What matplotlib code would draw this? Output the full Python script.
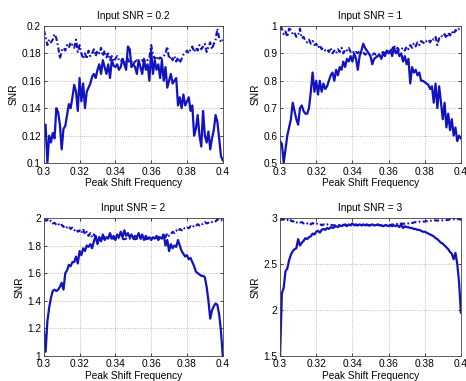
import numpy as np
import matplotlib
matplotlib.use('Agg')
import matplotlib.pyplot as plt
from matplotlib.ticker import FormatStrFormatter

plt.rcParams['font.family'] = ['Liberation Sans', 'DejaVu Sans']
plt.rcParams['font.size'] = 7.3

freq = np.linspace(0.3, 0.4, 101)

# Input SNR = 0.2
snr02_out = [0.128, 0.128, 0.100, 0.120, 0.115, 0.122, 0.118, 0.140, 0.137, 0.128,
             0.110, 0.125, 0.127, 0.135, 0.143, 0.140, 0.148, 0.157, 0.152, 0.138,
             0.162, 0.145, 0.158, 0.140, 0.152, 0.155, 0.158, 0.163, 0.165, 0.162,
             0.168, 0.172, 0.165, 0.175, 0.170, 0.165, 0.172, 0.162, 0.175, 0.171,
             0.170, 0.172, 0.168, 0.170, 0.176, 0.172, 0.168, 0.185, 0.183, 0.170,
             0.172, 0.170, 0.165, 0.175, 0.170, 0.165, 0.176, 0.168, 0.172, 0.160,
             0.182, 0.165, 0.175, 0.168, 0.172, 0.162, 0.175, 0.160, 0.170, 0.155,
             0.160, 0.165, 0.158, 0.160, 0.162, 0.142, 0.148, 0.140, 0.150, 0.142,
             0.145, 0.148, 0.138, 0.142, 0.120, 0.125, 0.135, 0.120, 0.112, 0.138,
             0.120, 0.115, 0.123, 0.110, 0.118, 0.124, 0.135, 0.130, 0.118, 0.105,
             0.102]
snr02_ref = [0.197, 0.192, 0.186, 0.190, 0.188, 0.190, 0.194, 0.191, 0.185, 0.176,
             0.182, 0.184, 0.182, 0.186, 0.184, 0.188, 0.186, 0.184, 0.190, 0.181,
             0.186, 0.180, 0.176, 0.180, 0.176, 0.182, 0.178, 0.180, 0.183, 0.178,
             0.182, 0.180, 0.184, 0.178, 0.182, 0.177, 0.180, 0.175, 0.178, 0.174,
             0.176, 0.178, 0.175, 0.174, 0.176, 0.173, 0.175, 0.176, 0.173, 0.174,
             0.172, 0.174, 0.175, 0.173, 0.174, 0.175, 0.174, 0.176, 0.175, 0.177,
             0.186, 0.179, 0.176, 0.178, 0.175, 0.177, 0.176, 0.178, 0.180, 0.185,
             0.176, 0.178, 0.175, 0.178, 0.174, 0.177, 0.173, 0.176, 0.179, 0.180,
             0.182, 0.180, 0.183, 0.185, 0.181, 0.184, 0.182, 0.186, 0.183, 0.185,
             0.187, 0.181, 0.185, 0.188, 0.183, 0.187, 0.190, 0.198, 0.191, 0.188,
             0.190]

# Input SNR = 1
snr1_out = [0.58, 0.57, 0.50, 0.55, 0.60, 0.63, 0.66, 0.72, 0.69, 0.66,
            0.64, 0.70, 0.71, 0.69, 0.68, 0.68, 0.70, 0.76, 0.83, 0.76,
            0.80, 0.75, 0.80, 0.76, 0.79, 0.77, 0.78, 0.80, 0.82, 0.83,
            0.80, 0.84, 0.82, 0.85, 0.84, 0.87, 0.85, 0.88, 0.87, 0.89,
            0.87, 0.90, 0.88, 0.84, 0.89, 0.91, 0.935, 0.92, 0.91, 0.90,
            0.89, 0.86, 0.88, 0.885, 0.89, 0.895, 0.88, 0.90, 0.89, 0.91,
            0.90, 0.91, 0.89, 0.92, 0.90, 0.91, 0.89, 0.90, 0.87, 0.89,
            0.86, 0.88, 0.79, 0.85, 0.83, 0.84, 0.82, 0.83, 0.80, 0.80,
            0.795, 0.79, 0.785, 0.77, 0.78, 0.72, 0.79, 0.70, 0.78, 0.72,
            0.66, 0.72, 0.63, 0.68, 0.62, 0.66, 0.60, 0.63, 0.58, 0.60,
            0.59]
snr1_ref = [1.00, 0.99, 0.97, 0.98, 0.96, 0.99, 0.985, 0.97, 0.975, 0.96,
            0.965, 0.99, 0.955, 0.96, 0.945, 0.94, 0.95, 0.935, 0.945, 0.93,
            0.935, 0.92, 0.93, 0.915, 0.92, 0.91, 0.915, 0.905, 0.92, 0.90,
            0.91, 0.90, 0.915, 0.905, 0.92, 0.90, 0.915, 0.91, 0.92, 0.905,
            0.91, 0.90, 0.905, 0.90, 0.91, 0.90, 0.905, 0.895, 0.90, 0.895,
            0.90, 0.895, 0.90, 0.895, 0.90, 0.895, 0.90, 0.905, 0.90, 0.91,
            0.905, 0.91, 0.915, 0.93, 0.915, 0.92, 0.91, 0.915, 0.92, 0.91,
            0.925, 0.915, 0.93, 0.92, 0.935, 0.925, 0.94, 0.93, 0.945, 0.94,
            0.935, 0.945, 0.95, 0.94, 0.955, 0.95, 0.96, 0.93, 0.955, 0.965,
            0.96, 0.97, 0.955, 0.975, 0.965, 0.98, 0.97, 0.985, 0.98, 0.99,
            0.995]

# Input SNR = 2
snr2_out = [1.20, 1.03, 1.25, 1.35, 1.42, 1.47, 1.48, 1.47, 1.48, 1.50,
            1.53, 1.48, 1.60, 1.62, 1.66, 1.65, 1.68, 1.68, 1.72, 1.67,
            1.76, 1.73, 1.78, 1.76, 1.80, 1.79, 1.81, 1.78, 1.83, 1.87,
            1.81, 1.86, 1.83, 1.88, 1.84, 1.86, 1.85, 1.89, 1.85, 1.87,
            1.84, 1.88, 1.86, 1.90, 1.86, 1.91, 1.87, 1.89, 1.86, 1.88,
            1.85, 1.87, 1.86, 1.89, 1.85, 1.88, 1.84, 1.87, 1.85, 1.86,
            1.84, 1.86, 1.85, 1.87, 1.84, 1.86, 1.85, 1.88, 1.80, 1.84,
            1.76, 1.81, 1.78, 1.80, 1.79, 1.84, 1.80, 1.76, 1.74, 1.72,
            1.73, 1.70, 1.71, 1.68, 1.65, 1.61, 1.60, 1.59, 1.58, 1.58,
            1.57, 1.50, 1.40, 1.27, 1.33, 1.36, 1.38, 1.37, 1.30, 1.18,
            1.00]
snr2_ref = [1.99, 1.98, 1.985, 1.97, 1.98, 1.96, 1.965, 1.95, 1.96, 1.94,
            1.95, 1.935, 1.945, 1.93, 1.94, 1.92, 1.93, 1.91, 1.92, 1.90,
            1.91, 1.89, 1.92, 1.88, 1.90, 1.87, 1.89, 1.86, 1.88, 1.86,
            1.87, 1.86, 1.87, 1.85, 1.86, 1.85, 1.86, 1.85, 1.855, 1.85,
            1.85, 1.85, 1.855, 1.85, 1.85, 1.845, 1.85, 1.845, 1.85, 1.845,
            1.85, 1.845, 1.85, 1.845, 1.85, 1.845, 1.85, 1.845, 1.85, 1.85,
            1.855, 1.85, 1.86, 1.855, 1.86, 1.865, 1.87, 1.88, 1.86, 1.89,
            1.87, 1.88, 1.90, 1.89, 1.91, 1.90, 1.92, 1.91, 1.93, 1.92,
            1.93, 1.925, 1.94, 1.93, 1.945, 1.94, 1.955, 1.945, 1.96, 1.955,
            1.97, 1.96, 1.965, 1.975, 1.97, 1.98, 1.975, 1.99, 1.98, 1.985,
            1.98]

# Input SNR = 3
snr3_out = [1.50, 2.18, 2.24, 2.42, 2.45, 2.54, 2.60, 2.64, 2.66, 2.67,
            2.77, 2.70, 2.73, 2.75, 2.78, 2.77, 2.79, 2.80, 2.83, 2.82,
            2.85, 2.86, 2.84, 2.87, 2.88, 2.87, 2.89, 2.88, 2.90, 2.89,
            2.90, 2.91, 2.90, 2.92, 2.91, 2.92, 2.93, 2.91, 2.93, 2.92,
            2.94, 2.92, 2.93, 2.92, 2.93, 2.92, 2.93, 2.92, 2.93, 2.92,
            2.92, 2.93, 2.92, 2.92, 2.93, 2.92, 2.92, 2.91, 2.92, 2.92,
            2.91, 2.92, 2.91, 2.92, 2.91, 2.92, 2.90, 2.93, 2.89, 2.91,
            2.90, 2.90, 2.89, 2.89, 2.88, 2.88, 2.87, 2.87, 2.86, 2.85,
            2.85, 2.84, 2.83, 2.82, 2.81, 2.80, 2.78, 2.77, 2.75, 2.73,
            2.72, 2.70, 2.68, 2.66, 2.63, 2.61, 2.55, 2.62, 2.50, 2.30,
            1.97]
snr3_ref = [2.99, 2.98, 2.985, 2.97, 2.98, 2.96, 2.975, 2.96, 2.97, 2.95,
            2.96, 2.95, 2.955, 2.94, 2.95, 2.94, 2.95, 2.93, 2.945, 2.93,
            2.94, 2.93, 2.935, 2.92, 2.93, 2.92, 2.93, 2.92, 2.925, 2.92,
            2.92, 2.92, 2.925, 2.92, 2.92, 2.925, 2.92, 2.92, 2.925, 2.92,
            2.92, 2.925, 2.92, 2.92, 2.925, 2.92, 2.92, 2.925, 2.92, 2.92,
            2.92, 2.925, 2.92, 2.92, 2.925, 2.92, 2.92, 2.925, 2.92, 2.92,
            2.925, 2.92, 2.93, 2.925, 2.93, 2.935, 2.93, 2.94, 2.935, 2.94,
            2.945, 2.94, 2.95, 2.945, 2.95, 2.955, 2.95, 2.96, 2.955, 2.96,
            2.96, 2.965, 2.96, 2.97, 2.965, 2.97, 2.975, 2.97, 2.975, 2.97,
            2.975, 2.98, 2.975, 2.98, 2.985, 2.98, 2.985, 2.98, 2.99, 2.985,
            2.98]

titles = ['Input SNR = 0.2', 'Input SNR = 1', 'Input SNR = 2', 'Input SNR = 3']
outs = [snr02_out, snr1_out, snr2_out, snr3_out]
refs = [snr02_ref, snr1_ref, snr2_ref, snr3_ref]
ylims = [(0.1, 0.2), (0.5, 1.0), (1.0, 2.0), (1.5, 3.0)]
ysteps = [0.02, 0.1, 0.2, 0.5]
xticks = [0.3, 0.32, 0.34, 0.36, 0.38, 0.4]

# axes rectangles (left, bottom, width, height) in figure fractions
rects = [(0.094, 0.572, 0.384, 0.360), (0.601, 0.572, 0.388, 0.360),
         (0.094, 0.066, 0.384, 0.362), (0.601, 0.066, 0.388, 0.362)]

blue = '#1212bf'

fig = plt.figure(figsize=(4.66, 3.81), dpi=100)

for i in range(4):
    ax = fig.add_axes(rects[i])
    ax.plot(freq, refs[i], color=blue, lw=1.5, dashes=(2.5, 1.2, 0.8, 1.2))
    ax.plot(freq, outs[i], color=blue, lw=1.6)
    ax.set_xlim(0.3, 0.4)
    ax.set_ylim(*ylims[i])
    ax.set_xticks(xticks)
    ax.set_yticks(np.arange(ylims[i][0], ylims[i][1] + 1e-9, ysteps[i]))
    ax.xaxis.set_major_formatter(FormatStrFormatter('%g'))
    ax.yaxis.set_major_formatter(FormatStrFormatter('%g'))
    ax.grid(True, linestyle=':', color='#aaaaaa', lw=0.6)
    ax.tick_params(direction='in', length=2.5, width=0.5, top=True, right=True, pad=2)
    ax.tick_params(axis='x', pad=2.5)
    for spine in ax.spines.values():
        spine.set_linewidth(0.6)
        spine.set_color('#444444')
    ax.set_title(titles[i], fontsize=7.3, pad=5)
    ax.set_xlabel('Peak Shift Frequency', labelpad=1)
    ax.set_ylabel('SNR', labelpad=2)

plt.savefig('out.png', dpi=100)
